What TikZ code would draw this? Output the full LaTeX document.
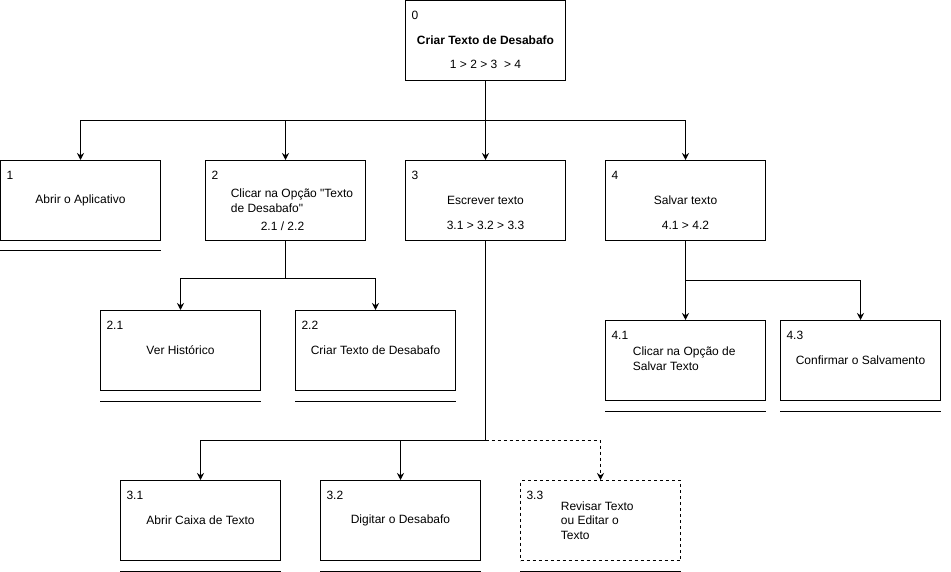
\documentclass[tikz,border=0pt]{standalone}
\usepackage{fontspec}
\setmainfont{Liberation Sans}
\usetikzlibrary{arrows.meta}
\tikzstyle{boxes} = [rectangle, draw=black, minimum width=160pt, minimum height=80pt, inner sep=0pt, align=center]
\tikzstyle{num} = [anchor=north west, inner sep=0pt, xshift=6pt, yshift=-10.5pt]
\tikzstyle{arrow} = [-{Stealth[length=7pt,width=7pt]}]

\begin{document}
\begin{tikzpicture}[x=1pt, y=-1pt, line width=1pt, font=\fontsize{12}{14.5}\selectfont]
        \useasboundingbox (-0.5,-0.5) rectangle (950.5,571.5);

        % Goal
        \node[boxes, label={[num]north west:0}] (b0) at (485,40) {\textbf{Criar Texto de Desabafo}};
        \node (b0s) at ([yshift=-24pt]b0.center) {1 > 2 > 3 \ > 4};

        % Steps
        \node[boxes, label={[num]north west:1}] (b1) at (80,200) {Abrir o Aplicativo};

        \node[boxes, label={[num]north west:2}] (b2) at (285,200) {};
        \node[anchor=west, align=left] (b2t) at ([xshift=22pt]b2.west) {Clicar na Opção \textquotedbl Texto\\de Desabafo\textquotedbl};
        \node (b2s) at ([xshift=-3pt,yshift=-26pt]b2.center) {2.1 / 2.2};

        \node[boxes, label={[num]north west:3}] (b3) at (485,200) {Escrever texto};
        \node (b3s) at ([yshift=-25pt]b3.center) {3.1 > 3.2 > 3.3};

        \node[boxes, label={[num]north west:4}] (b4) at (685,200) {Salvar texto};
        \node (b4s) at ([yshift=-25pt]b4.center) {4.1 > 4.2};

        % Sub steps
        \node[boxes, label={[num]north west:2.1}] (b21) at (180,350) {Ver Histórico};
        \node[boxes, label={[num]north west:2.2}] (b22) at (375,350) {Criar Texto de Desabafo};

        \node[boxes, label={[num]north west:3.1}] (b31) at (200,520) {Abrir Caixa de Texto};
        \node[boxes, label={[num]north west:3.2}] (b32) at (400,520) {Digitar o Desabafo};
        \node[boxes, dashed, label={[num]north west:3.3}] (b33) at (600,520) {};
        \node[anchor=west, align=left] (b33t) at ([xshift=37pt]b33.west) {Revisar Texto\\ou Editar o\\Texto};

        \node[boxes, label={[num]north west:4.1}] (b41) at (685,360) {};
        \node[anchor=west, align=left] (b41t) at ([xshift=24pt,yshift=2pt]b41.west) {Clicar na Opção de\\Salvar Texto};
        \node[boxes, label={[num]north west:4.3}] (b43) at (860,360) {Confirmar o Salvamento};

        % Connectors
        \draw[arrow] (b0.south) -- ++(0,40) -| (b1.north);
        \draw[arrow] (b0.south) -- ++(0,40) -| (b2.north);
        \draw[arrow] (b0.south) -- ++(0,40) -| (b3.north);
        \draw[arrow] (b0.south) -- ++(0,40) -| (b4.north);

        \draw[arrow] (b2.south) -- ++(0,38) -| (b21.north);
        \draw[arrow] (b2.south) -- ++(0,38) -| (b22.north);

        \coordinate (j3) at (485,440);
        \draw (b3.south) -- (j3);
        \draw[arrow] (j3) -| (b31.north);
        \draw[arrow] (j3) -| (b32.north);
        \draw[arrow, dashed] (j3) -| (b33.north);

        \draw[arrow] (b4.south) -- ++(0,40) -| (b41.north);
        \draw[arrow] (b4.south) -- ++(0,40) -| (b43.north);

        % Underlines
        \draw ([yshift=-10pt]b1.south west) -- ([yshift=-10pt]b1.south east);
        \draw ([yshift=-10pt]b21.south west) -- ([yshift=-10pt]b21.south east);
        \draw ([yshift=-10pt]b22.south west) -- ([yshift=-10pt]b22.south east);
        \draw ([yshift=-10pt]b31.south west) -- ([yshift=-10pt]b31.south east);
        \draw ([yshift=-10pt]b32.south west) -- ([yshift=-10pt]b32.south east);
        \draw ([yshift=-10pt]b33.south west) -- ([yshift=-10pt]b33.south east);
        \draw ([yshift=-10pt]b41.south west) -- ([yshift=-10pt]b41.south east);
        \draw ([yshift=-10pt]b43.south west) -- ([yshift=-10pt]b43.south east);
    \end{tikzpicture}
\end{document}
